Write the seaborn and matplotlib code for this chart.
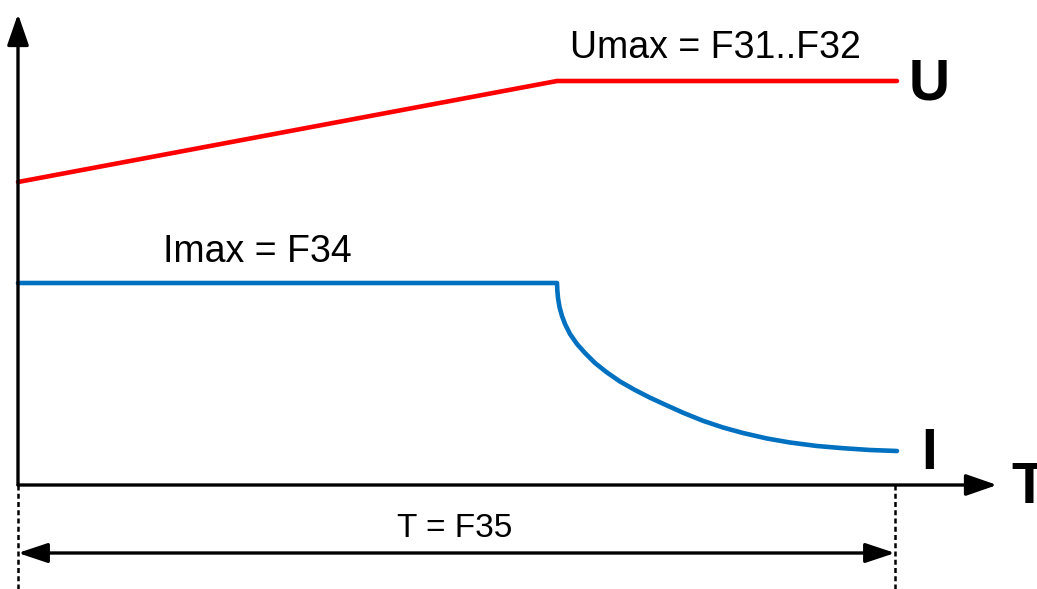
import matplotlib
matplotlib.use("Agg")
import matplotlib.pyplot as plt
import seaborn as sns
import pandas as pd

# Werte aus dem Bild (Zeit- und Amplitudeneinheiten, Ursprung im Achsenkreuz)
t_u = [0, 539, 879]
u_vals = [303, 404, 404]

t_i = [0, 539, 539.3, 540, 541.5, 544, 547, 552, 559, 567, 577, 589, 602, 617, 632, 649,
       665, 685, 705, 725, 749, 772, 799, 825, 852, 879]
i_vals = [202, 202, 195, 187, 178, 169, 161, 151, 141, 132, 122, 112.5, 103.5, 95, 87.3, 79.5,
          72.3, 64.2, 57.5, 52, 46.5, 42.5, 39, 36.8, 35, 34]

t_end = 877
x_axis_end = 979
y_axis_end = 471

labels = {
    "umax": "Umax = F31..F32",
    "imax": "Imax = F34",
    "tdur": "T = F35",
}

sns.set_style("white")
plt.rcParams["font.family"] = ["Liberation Sans", "DejaVu Sans"]
plt.rcParams["text.color"] = "black"

df_u = pd.DataFrame({"t": t_u, "val": u_vals})
df_i = pd.DataFrame({"t": t_i, "val": i_vals})

fig = plt.figure(figsize=(10.37, 5.89), dpi=100)
ax = fig.add_axes([0, 0, 1, 1])
ax.set_xlim(-18, 1019)
ax.set_ylim(-104, 485)
ax.axis("off")

sns.lineplot(data=df_u, x="t", y="val", ax=ax, color="#FF0000", linewidth=3.3,
             estimator=None, sort=False, solid_capstyle="round", solid_joinstyle="round")
sns.lineplot(data=df_i, x="t", y="val", ax=ax, color="#0070C0", linewidth=3.3,
             estimator=None, sort=False, solid_capstyle="round", solid_joinstyle="round")

arrow = dict(arrowstyle="-|>,head_length=0.95,head_width=0.33", color="black",
             lw=2.4, shrinkA=0, shrinkB=0, mutation_scale=20)
ax.annotate("", xy=(0, y_axis_end), xytext=(0, 0), arrowprops=arrow)
ax.annotate("", xy=(x_axis_end, 0), xytext=(0, 0), arrowprops=arrow)

dim = dict(arrowstyle="<|-|>,head_length=0.9,head_width=0.3", color="black",
           lw=2.4, shrinkA=0, shrinkB=0, mutation_scale=20)
ax.annotate("", xy=(t_end, -68), xytext=(0, -68), arrowprops=dim)

for xv in [0, t_end]:
    ax.plot([xv, xv], [0, -104], color="black", lw=1.8, linestyle=(0, (2, 1.3)))

ax.text(697, 427, labels["umax"], fontsize=27, ha="center", va="baseline", color="black")
ax.text(239, 223, labels["imax"], fontsize=27, ha="center", va="baseline", color="black")
ax.text(437, -52, labels["tdur"], fontsize=24, ha="center", va="baseline", color="black")

ax.text(911, 385, "U", fontsize=41, fontweight="bold", ha="center", va="baseline", color="black")
ax.text(911, 16, "I", fontsize=41, fontweight="bold", ha="center", va="baseline", color="black")
ax.text(1011, -18, "T", fontsize=41, fontweight="bold", ha="center", va="baseline", color="black")

fig.savefig("out.png", dpi=100)
